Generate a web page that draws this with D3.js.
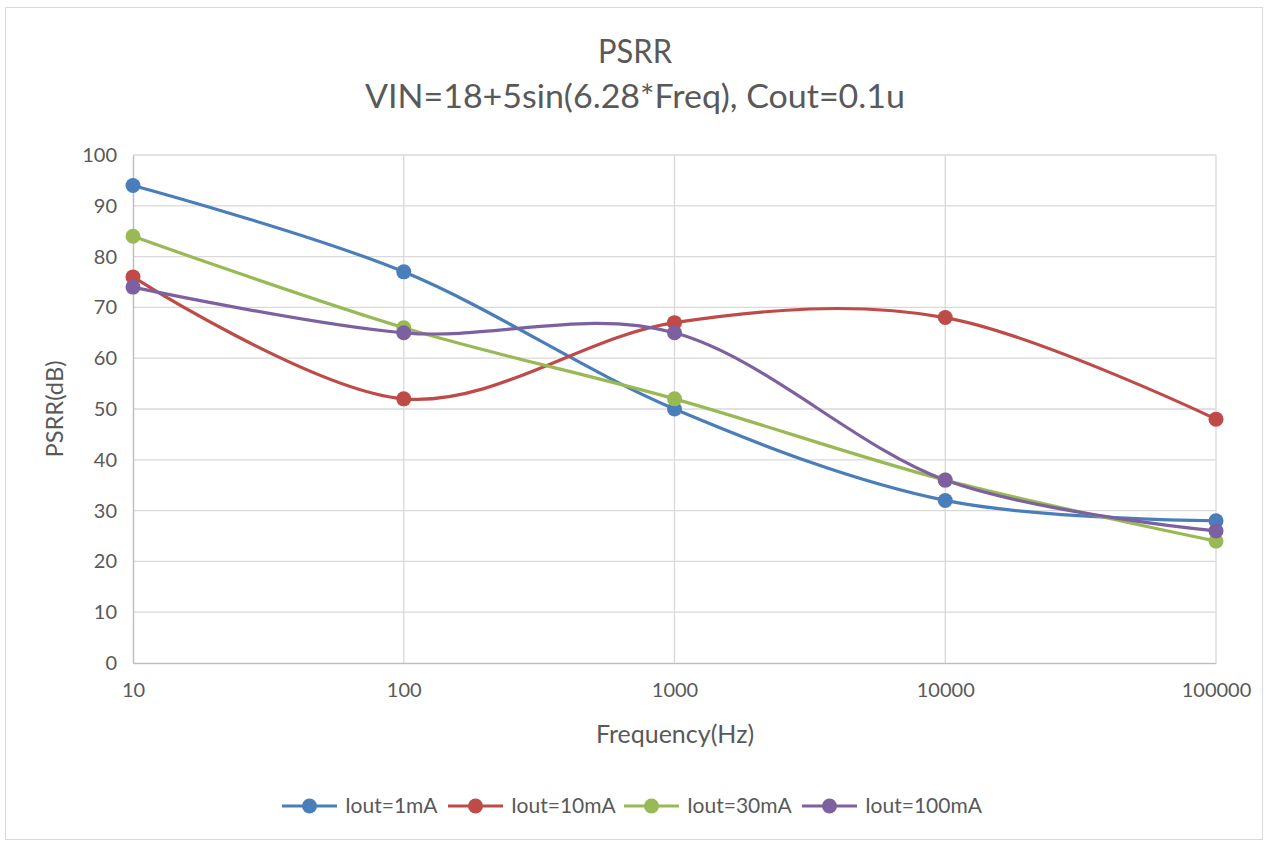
<!DOCTYPE html>
<html>
<head>
<meta charset="utf-8">
<script src="https://cdn.jsdelivr.net/npm/d3@7"></script>
<style>
  body { margin: 0; background: #fff; }
  svg { font-family: Lato, "Open Sans", sans-serif; }
</style>
</head>
<body>
<div class="chart"></div>
<script>
// data
const FREQS = [10, 100, 1000, 10000, 100000];
const SERIES_NAMES = ["Iout=1mA", "Iout=10mA", "Iout=30mA", "Iout=100mA"];
const IOUT_1MA = [94, 77, 50, 32, 28];
const IOUT_10MA = [76, 52, 67, 68, 48];
const IOUT_30MA = [84, 66, 52, 36, 24];
const IOUT_100MA = [74, 65, 65, 36, 26];
const COLORS = ["#4a7ebb", "#be4b48", "#98b954", "#7d60a0"];
const Y_TICKS = [0, 10, 20, 30, 40, 50, 60, 70, 80, 90, 100];

const W = 1266, H = 842;
const margin = { left: 133, right: 50, top: 155, bottom: 179 };
const TEXT = "#595959";

const svg = d3.select(".chart").append("svg")
  .attr("width", W).attr("height", H);

// outer chart border
svg.append("rect")
  .attr("x", 5.5).attr("y", 7.5)
  .attr("width", W - 9).attr("height", H - 10)
  .attr("fill", "#fff").attr("stroke", "#d9d9d9");

const x = d3.scaleLog().domain([10, 100000]).range([margin.left, W - margin.right]);
const y = d3.scaleLinear().domain([0, 100]).range([H - margin.bottom, margin.top]);

// gridlines
svg.append("g").selectAll("line")
  .data(Y_TICKS.slice(1))
  .join("line")
  .attr("x1", x.range()[0]).attr("x2", x.range()[1])
  .attr("y1", d => y(d)).attr("y2", d => y(d))
  .attr("stroke", "#d9d9d9").attr("stroke-width", 1.3);

svg.append("g").selectAll("line")
  .data(FREQS.slice(1))
  .join("line")
  .attr("x1", d => x(d)).attr("x2", d => x(d))
  .attr("y1", y(0)).attr("y2", y(100))
  .attr("stroke", "#d9d9d9").attr("stroke-width", 1.3);

// axes
const yAxis = svg.append("g")
  .attr("transform", `translate(${margin.left},0)`)
  .call(d3.axisLeft(y).tickValues(Y_TICKS).tickSize(0).tickPadding(16));
const xAxis = svg.append("g")
  .attr("transform", `translate(0,${y(0)})`)
  .call(d3.axisBottom(x).tickValues(FREQS).tickFormat(d3.format("d")).tickSize(0).tickPadding(20));
[xAxis, yAxis].forEach(a => {
  a.select(".domain").attr("stroke", "#bfbfbf").attr("stroke-width", 1.5);
  a.selectAll("text").attr("font-size", 20).attr("fill", TEXT)
    .attr("font-family", "Lato, sans-serif");
});

// titles
svg.append("text").attr("x", 635).attr("y", 63)
  .attr("text-anchor", "middle").attr("font-size", 33).attr("fill", TEXT)
  .attr("textLength", 74).attr("lengthAdjust", "spacingAndGlyphs")
  .text("PSRR");
svg.append("text").attr("x", 635).attr("y", 108)
  .attr("text-anchor", "middle").attr("font-size", 33).attr("fill", TEXT)
  .attr("textLength", 540).attr("lengthAdjust", "spacingAndGlyphs")
  .text("VIN=18+5sin(6.28*Freq), Cout=0.1u");
svg.append("text").attr("x", 675).attr("y", 743)
  .attr("text-anchor", "middle").attr("font-size", 25).attr("fill", TEXT)
  .text("Frequency(Hz)");
svg.append("text")
  .attr("transform", `translate(63,${(y(0) + y(100)) / 2}) rotate(-90)`)
  .attr("text-anchor", "middle").attr("font-size", 24).attr("fill", TEXT)
  .attr("textLength", 97).attr("lengthAdjust", "spacingAndGlyphs")
  .text("PSRR(dB)");

// series
const allSeries = [IOUT_1MA, IOUT_10MA, IOUT_30MA, IOUT_100MA].map((vals, i) => ({
  name: SERIES_NAMES[i],
  color: COLORS[i],
  points: FREQS.map((f, j) => ({ f, v: vals[j] }))
}));

const line = d3.line()
  .x(d => x(d.f)).y(d => y(d.v))
  .curve(d3.curveCardinal.tension(0));

const plot = svg.append("g");
allSeries.forEach(s => {
  plot.append("path")
    .attr("d", line(s.points))
    .attr("fill", "none").attr("stroke", s.color)
    .attr("stroke-width", 3.2).attr("stroke-linecap", "round");
});
allSeries.forEach(s => {
  plot.selectAll(null)
    .data(s.points)
    .join("circle")
    .attr("cx", d => x(d.f)).attr("cy", d => y(d.v))
    .attr("r", 7.5).attr("fill", s.color);
});

// legend
const legendX = [282, 448, 624, 802];
const legend = svg.append("g").attr("transform", "translate(0,806)");
allSeries.forEach((s, i) => {
  const g = legend.append("g").attr("transform", `translate(${legendX[i]},0)`);
  g.append("line").attr("x1", 0).attr("x2", 55).attr("stroke", s.color).attr("stroke-width", 3.2);
  g.append("circle").attr("cx", 27.5).attr("r", 7.5).attr("fill", s.color);
  g.append("text").attr("x", 63).attr("dy", "0.35em")
    .attr("font-size", 21).attr("fill", TEXT).text(s.name);
});
</script>
</body>
</html>
